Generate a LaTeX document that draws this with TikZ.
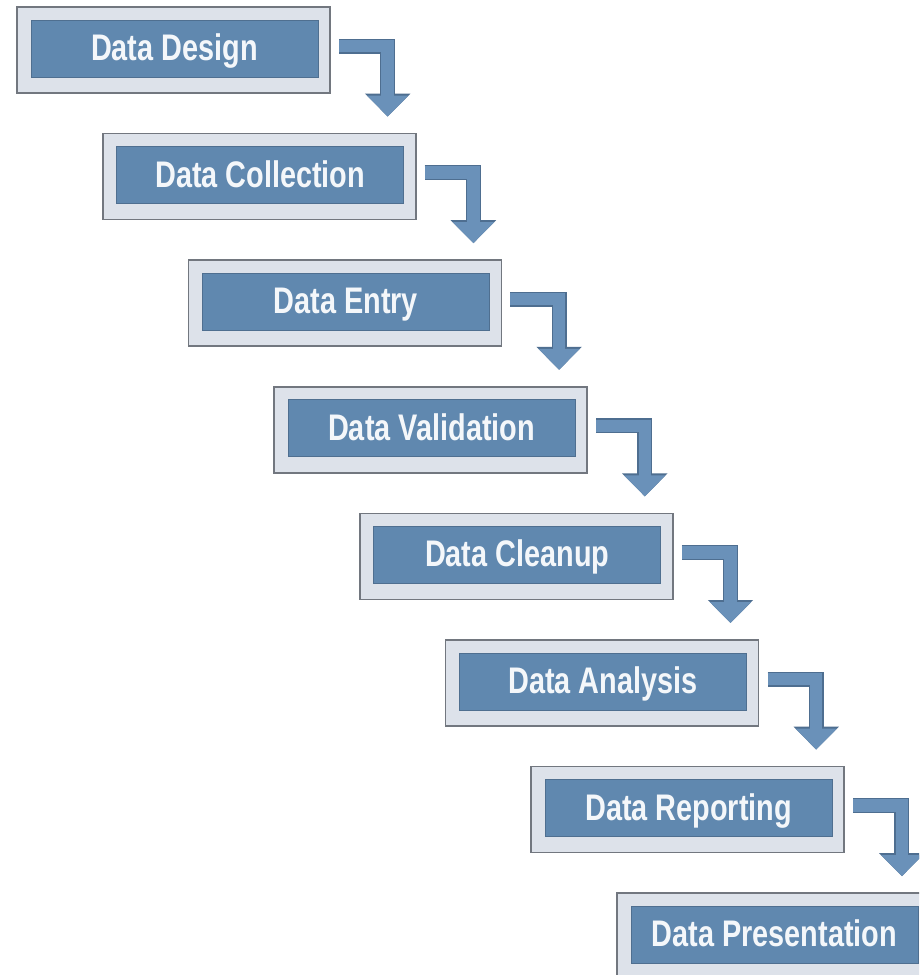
\documentclass[tikz,border=0pt]{standalone}
\usepackage{fontspec}
\newfontfamily\boxfont{Liberation Sans}[FakeStretch=0.78]
\usetikzlibrary{arrows.meta,calc}

\definecolor{framefill}{HTML}{DDE2EA}
\definecolor{frameline}{HTML}{72777F}
\definecolor{panelfill}{HTML}{6088AF}
\definecolor{panelline}{HTML}{4F6F90}
\definecolor{arrowfill}{HTML}{6A91B9}
\definecolor{arrowedge}{HTML}{4E6E90}
\definecolor{labeltext}{HTML}{F4F7FA}

\tikzset{
  frame/.style={rectangle, anchor=north west, inner sep=0pt, outer sep=0pt,
    minimum width=313pt, minimum height=86pt,
    fill=framefill, draw=frameline, line width=1.6pt},
  panel/.style={rectangle, anchor=north west, inner sep=0pt, outer sep=0pt,
    minimum width=287pt, minimum height=57pt,
    text height=24pt, text depth=0pt,
    fill=panelfill, draw=panelline, line width=0.8pt,
    text=labeltext, font=\boxfont\bfseries\fontsize{37}{40}\selectfont},
  flowarrow/.style={draw=arrowfill, line width=12.5pt, line join=miter,
    line cap=butt, -{Triangle[width=40pt,length=21pt]},
    preaction={draw=arrowedge, line width=15pt, line join=miter,
      line cap=butt, -{Triangle[width=44pt,length=23pt]}}}
}

\begin{document}
\begin{tikzpicture}[x=1pt,y=-1pt]
  \clip (0,0) rectangle (919,975);
  \fill[white] (0,0) rectangle (919,975);

  % staircase of process steps
  \foreach \i/\name in {1/Data Design, 2/Data Collection, 3/Data Entry,
      4/Data Validation, 5/Data Cleanup, 6/Data Analysis,
      7/Data Reporting, 8/Data Presentation} {
    \pgfmathsetmacro{\L}{17+85.7*(\i-1)}
    \pgfmathsetmacro{\T}{7+126.6*(\i-1)}
    \node[frame] (b\i) at (\L,\T) {};
    \node[panel] (t\i) at (\L+14,\T+13) {\name};
  }

  % elbow arrows from each step down to the next
  \foreach \i [evaluate=\i as \j using int(\i+1)] in {1,...,7} {
    \draw[flowarrow] ([shift={(9,39)}]b\i.north east)
      -| ([shift={(-28,-17)}]b\j.north east);
  }
\end{tikzpicture}
\end{document}
